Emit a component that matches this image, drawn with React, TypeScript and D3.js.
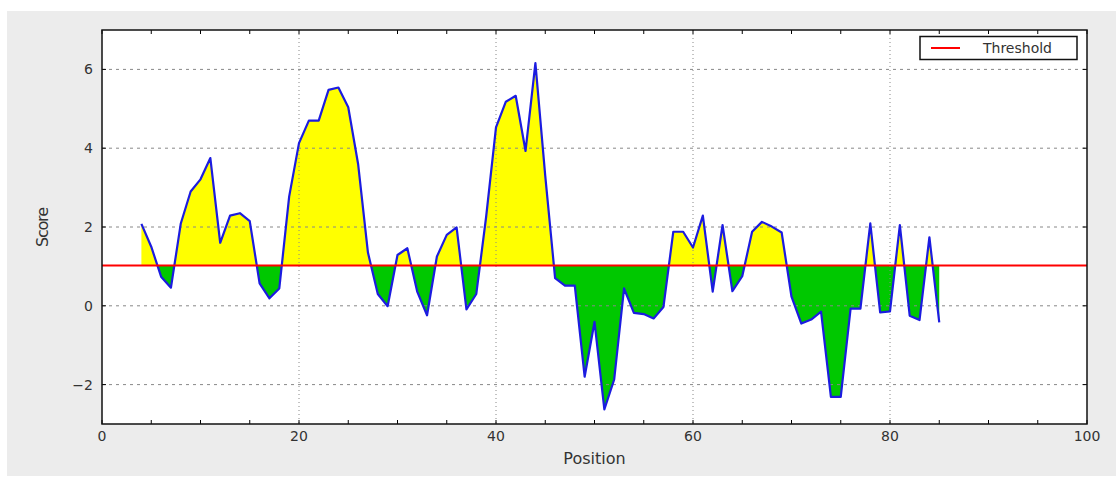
import * as d3 from 'd3'
import { useEffect, useRef } from 'react'

const positions = [4, 5, 6, 7, 8, 9, 10, 11, 12, 13, 14, 15, 16, 17, 18, 19, 20, 21, 22, 23, 24, 25, 26, 27, 28, 29, 30, 31, 32, 33, 34, 35, 36, 37, 38, 39, 40, 41, 42, 43, 44, 45, 46, 47, 48, 49, 50, 51, 52, 53, 54, 55, 56, 57, 58, 59, 60, 61, 62, 63, 64, 65, 66, 67, 68, 69, 70, 71, 72, 73, 74, 75, 76, 77, 78, 79, 80, 81, 82, 83, 84, 85]
const scores = [2.08, 1.5, 0.74, 0.46, 2.09, 2.9, 3.21, 3.75, 1.6, 2.29, 2.35, 2.15, 0.57, 0.19, 0.44, 2.77, 4.13, 4.7, 4.7, 5.48, 5.54, 5.04, 3.6, 1.35, 0.3, -0.01, 1.29, 1.46, 0.36, -0.24, 1.25, 1.8, 1.99, -0.09, 0.3, 2.26, 4.53, 5.18, 5.33, 3.93, 6.16, 3.3, 0.7, 0.51, 0.51, -1.8, -0.41, -2.63, -1.87, 0.44, -0.18, -0.21, -0.32, -0.03, 1.88, 1.88, 1.48, 2.29, 0.36, 2.05, 0.37, 0.75, 1.88, 2.13, 2.01, 1.86, 0.23, -0.45, -0.35, -0.15, -2.31, -2.31, -0.07, -0.07, 2.09, -0.17, -0.14, 2.05, -0.25, -0.36, 1.74, -0.42]
const threshold = 1.02
const xTicks = [0, 20, 40, 60, 80, 100]
const xMinorTicks = [5, 10, 15, 25, 30, 35, 45, 50, 55, 65, 70, 75, 85, 90, 95]
const yTicks = [-2, 0, 2, 4, 6]

export default function App() {
  const ref = useRef<SVGSVGElement | null>(null)
  useEffect(() => {
    const el = ref.current
    if (!el) return
    const svg = d3.select(el)
    svg.selectAll('*').remove()
    const W = 1116
    const m = { left: 102, right: 1087, top: 30, bottom: 424 }
    const font = 'DejaVu Sans, sans-serif'

    svg.append('rect').attr('x', 7).attr('y', 11).attr('width', W - 7).attr('height', 465).attr('fill', '#ececec')
    svg.append('rect').attr('x', m.left).attr('y', m.top).attr('width', m.right - m.left).attr('height', m.bottom - m.top).attr('fill', '#fff')

    const x = d3.scaleLinear().domain([0, 100]).range([m.left, m.right])
    const y = d3.scaleLinear().domain([-3, 7]).range([m.bottom, m.top])
    const data = positions.map((p, i) => ({ p, s: scores[i] }))

    const defs = svg.append('defs')
    defs.append('clipPath').attr('id', 'above').append('rect')
      .attr('x', m.left).attr('y', m.top).attr('width', m.right - m.left).attr('height', y(threshold) - m.top)
    defs.append('clipPath').attr('id', 'below').append('rect')
      .attr('x', m.left).attr('y', y(threshold)).attr('width', m.right - m.left).attr('height', m.bottom - y(threshold))

    const area = d3.area<{ p: number; s: number }>()
      .x((d) => x(d.p))
      .y0(y(threshold))
      .y1((d) => y(d.s))
    svg.append('path').attr('d', area(data)).attr('fill', '#ffff00').attr('clip-path', 'url(#above)')
    svg.append('path').attr('d', area(data)).attr('fill', '#00c800').attr('clip-path', 'url(#below)')

    // grid
    const grid = svg.append('g')
    yTicks.forEach((t) => {
      grid.append('line').attr('x1', m.left).attr('x2', m.right).attr('y1', y(t)).attr('y2', y(t))
        .attr('stroke', '#888').attr('stroke-width', 1).attr('stroke-dasharray', '3,4')
    })
    xTicks.slice(1, -1).forEach((t) => {
      grid.append('line').attr('x1', x(t)).attr('x2', x(t)).attr('y1', m.top).attr('y2', m.bottom)
        .attr('stroke', '#888').attr('stroke-width', 1).attr('stroke-dasharray', '1,3')
    })

    const line = d3.line<{ p: number; s: number }>().x((d) => x(d.p)).y((d) => y(d.s))
    svg.append('path').attr('d', line(data)).attr('fill', 'none').attr('stroke', '#1c1ce0').attr('stroke-width', 2.2).attr('stroke-linejoin', 'round')

    svg.append('line').attr('x1', m.left).attr('x2', m.right).attr('y1', y(threshold)).attr('y2', y(threshold))
      .attr('stroke', '#ff0000').attr('stroke-width', 2)

    // ticks
    const ticks = svg.append('g').attr('stroke', '#000').attr('stroke-width', 1)
    ;[...xTicks, ...xMinorTicks].forEach((t) => {
      ticks.append('line').attr('x1', x(t)).attr('x2', x(t)).attr('y1', m.bottom).attr('y2', m.bottom - 4)
      ticks.append('line').attr('x1', x(t)).attr('x2', x(t)).attr('y1', m.top).attr('y2', m.top + 4)
    })
    yTicks.forEach((t) => {
      ticks.append('line').attr('x1', m.left).attr('x2', m.left + 4).attr('y1', y(t)).attr('y2', y(t))
      ticks.append('line').attr('x1', m.right).attr('x2', m.right - 4).attr('y1', y(t)).attr('y2', y(t))
    })

    svg.append('rect').attr('x', m.left).attr('y', m.top).attr('width', m.right - m.left).attr('height', m.bottom - m.top)
      .attr('fill', 'none').attr('stroke', '#111').attr('stroke-width', 1.5)

    const labels = svg.append('g').attr('font-family', font).attr('font-size', 14).attr('fill', '#333')
    xTicks.forEach((t) => {
      labels.append('text').attr('x', x(t)).attr('y', 441).attr('text-anchor', 'middle').text(String(t))
    })
    yTicks.forEach((t) => {
      labels.append('text').attr('x', 93).attr('y', y(t) + 5).attr('text-anchor', 'end').text(t < 0 ? '\u2212' + Math.abs(t) : String(t))
    })

    svg.append('text').attr('x', (m.left + m.right) / 2).attr('y', 464).attr('text-anchor', 'middle')
      .attr('font-family', font).attr('font-size', 16).attr('fill', '#333').text('Position')
    svg.append('text').attr('transform', `translate(48,${(m.top + m.bottom) / 2}) rotate(-90)`).attr('text-anchor', 'middle')
      .attr('font-family', font).attr('font-size', 16).attr('fill', '#333').attr('textLength', 40).text('Score')

    // legend
    const lg = svg.append('g')
    lg.append('rect').attr('x', 920).attr('y', 36.5).attr('width', 157).attr('height', 23)
      .attr('fill', '#fff').attr('stroke', '#111').attr('stroke-width', 1.5)
    lg.append('line').attr('x1', 931).attr('x2', 960).attr('y1', 48).attr('y2', 48).attr('stroke', '#ff0000').attr('stroke-width', 2)
    lg.append('text').attr('x', 983).attr('y', 53).attr('font-family', font).attr('font-size', 14).attr('fill', '#333').text('Threshold')
  }, [])
  return <svg ref={ref} width={1116} height={477} style={{ position: 'absolute', left: 0, top: 0 }} />
}
